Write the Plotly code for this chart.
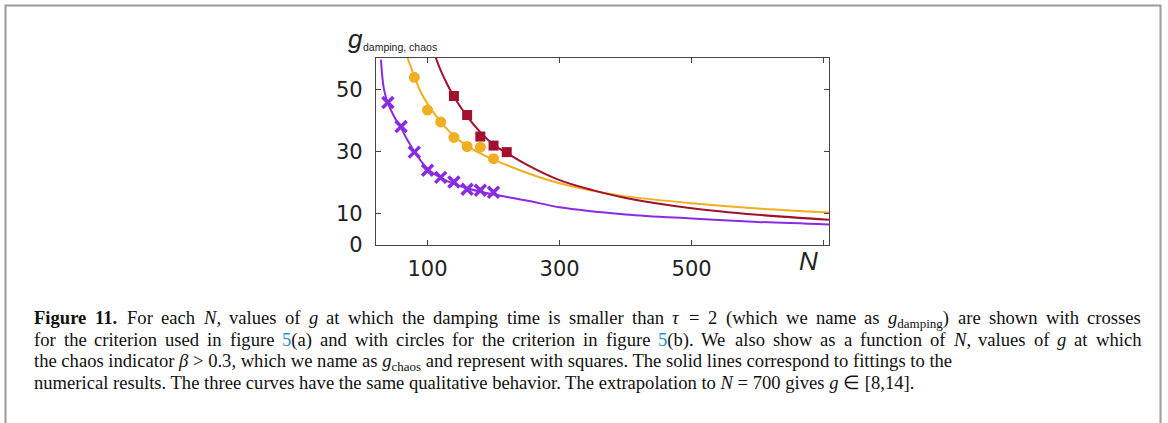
import plotly.graph_objects as go

# ---------------- data ----------------
N_cross = [40, 60, 80, 100, 120, 140, 160, 180, 200]
g_cross = [45.7, 38.0, 29.8, 24.0, 21.7, 20.2, 17.9, 17.6, 16.9]

N_circle = [80, 100, 120, 140, 160, 180, 200]
g_circle = [53.8, 43.3, 39.5, 34.5, 31.6, 31.4, 27.7]

N_square = [140, 160, 180, 200, 220]
g_square = [47.8, 41.7, 34.8, 31.9, 29.8]

# fitted curves, points
N_fit_purple = [29.5, 34, 40, 50, 60, 70, 80, 90, 100, 120, 140, 160, 180, 200, 250, 300, 400, 500, 600, 708]
g_fit_purple = [59.5, 50, 45.5, 41, 37.5, 33.5, 30, 27, 24.5, 21.5, 19.6, 18.2, 17.1, 16.2, 14.3, 12.1, 9.8, 8.5, 7.4, 6.6]

N_fit_yellow = [69.7, 75, 80, 90, 100, 120, 140, 160, 180, 200, 250, 300, 350, 400, 500, 600, 708]
g_fit_yellow = [60, 57, 54, 49, 45.3, 39.5, 35, 31.8, 29.4, 27.4, 23.2, 19.8, 17.4, 15.6, 13.4, 11.7, 10.4]

N_fit_red = [112.7, 120, 130, 140, 160, 180, 200, 220, 250, 300, 350, 400, 500, 600, 708]
g_fit_red = [60, 56, 51.5, 47.6, 41.3, 36.2, 32.2, 29.5, 25.8, 20.8, 17.6, 15.1, 11.8, 9.7, 8.1]

x_tickvals = [100, 300, 500]
x_ticktext = ["100", "300", "500"]
x_minor_ticks = [700]
y_tickvals = [0, 10, 30, 50]
y_ticktext = ["0", "10", "30", "50"]

PURPLE = "#8A2BE2"
YELLOW = "#F0AE22"
RED = "#A1112D"
BLUE = "#1E8FD5"

# ---------------- layout geometry ----------------
W, H = 1168, 423
L, R, T, B = 376, 829, 58, 245


def px(x):
    return (x - L) / (R - L)


def py(y):
    return (B - y) / (B - T)


fig = go.Figure()

fig.add_trace(go.Scatter(x=N_fit_purple, y=g_fit_purple, mode="lines",
                         line=dict(color=PURPLE, width=2, shape="spline"),
                         hoverinfo="skip", showlegend=False))
fig.add_trace(go.Scatter(x=N_fit_yellow, y=g_fit_yellow, mode="lines",
                         line=dict(color=YELLOW, width=2, shape="spline"),
                         hoverinfo="skip", showlegend=False))
fig.add_trace(go.Scatter(x=N_fit_red, y=g_fit_red, mode="lines",
                         line=dict(color=RED, width=2, shape="spline"),
                         hoverinfo="skip", showlegend=False))

fig.add_trace(go.Scatter(x=N_cross, y=g_cross, mode="markers",
                         marker=dict(symbol="x-thin", size=11, color=PURPLE,
                                     line=dict(color=PURPLE, width=3.5)),
                         showlegend=False))
fig.add_trace(go.Scatter(x=N_circle, y=g_circle, mode="markers",
                         marker=dict(symbol="circle", size=11, color=YELLOW,
                                     line=dict(width=0)),
                         showlegend=False))
fig.add_trace(go.Scatter(x=N_square, y=g_square, mode="markers",
                         marker=dict(symbol="square", size=10, color=RED,
                                     line=dict(width=0)),
                         showlegend=False))

axis_font = dict(family="DejaVu Sans, sans-serif", size=21, color="#222")

fig.update_xaxes(range=[22, 708], tickvals=x_tickvals, ticktext=x_ticktext,
                 ticks="inside", ticklen=5, tickcolor="#444", tickwidth=1,
                 minor=dict(tickvals=x_minor_ticks, ticks="inside", ticklen=5,
                            tickcolor="#444", tickwidth=1),
                 showline=True, linecolor="#444", linewidth=1.3, mirror="ticks",
                 showgrid=False, zeroline=False, tickfont=axis_font,
                 ticklabelstandoff=5)
fig.update_yaxes(range=[0, 60], tickvals=y_tickvals, ticktext=y_ticktext,
                 ticks="inside", ticklen=5, tickcolor="#444", tickwidth=1,
                 showline=True, linecolor="#444", linewidth=1.3, mirror="ticks",
                 showgrid=False, zeroline=False, tickfont=axis_font,
                 ticklabelstandoff=8)

annotations = [
    dict(x=px(346), y=py(39), text="<i>g</i>", showarrow=False,
         xref="paper", yref="paper", xanchor="left", yanchor="middle",
         font=dict(family="Liberation Sans, Arial, sans-serif", size=26, color="#222")),
    dict(x=px(361), y=py(46.5), text="damping, chaos", showarrow=False,
         xref="paper", yref="paper", xanchor="left", yanchor="middle",
         font=dict(family="Liberation Sans, Arial, sans-serif", size=10.5, color="#222")),
    dict(x=px(808), y=py(261), text="<i>N</i>", showarrow=False,
         xref="paper", yref="paper", xanchor="center", yanchor="middle",
         font=dict(family="Liberation Sans, Arial, sans-serif", size=26, color="#222")),
]

# ---------------- caption (justified first two lines) ----------------
FS = 18.6
cap_font = dict(family="Liberation Serif, Times New Roman, serif", size=FS, color="#111")

REG = {' ': 250, '(': 333, ')': 333, ',': 250, '.': 250, '=': 564, '>': 564,
       '[': 333, ']': 333, '∈': 667}
for c in "0123456789":
    REG[c] = 500
REG.update(dict(a=444, b=500, c=444, d=500, e=444, f=333, g=500, h=500, i=278, j=278,
                k=500, l=278, m=778, n=500, o=500, p=500, q=500, r=333, s=389, t=278,
                u=500, v=500, w=722, x=500, y=500, z=444))
REG.update({'F': 556, 'N': 722, 'T': 611, 'W': 944})
ITA = {'N': 667, 'g': 500, 'τ': 440, 'β': 500}
BLD = {'F': 611, 'i': 278, 'g': 500, 'u': 556, 'r': 444, 'e': 444, '1': 500, '.': 250}


def word(*parts):
    html, w = "", 0.0
    for p in parts:
        if isinstance(p, str):
            p = (p, "r")
        txt, st = p[0], p[1]
        col = p[2] if len(p) > 2 else None
        if st == "r":
            h = txt
            w += sum(REG.get(c, 500) for c in txt)
        elif st == "i":
            h = "<i>" + txt + "</i>"
            w += sum(ITA.get(c, REG.get(c, 500)) for c in txt)
        elif st == "b":
            h = "<b>" + txt + "</b>"
            w += sum(BLD.get(c, 500) for c in txt)
        else:
            h = "<sub>" + txt + "</sub>"
            w += 0.7 * sum(REG.get(c, 500) for c in txt)
        if col:
            h = "<span style='color:" + col + "'>" + h + "</span>"
        html += h
    return html, w * FS / 1000.0


line1 = [word(("Figure", "b")), word(("11.", "b")), word("For"), word("each"),
         word(("N", "i"), ","), word("values"), word("of"), word(("g", "i")), word("at"),
         word("which"), word("the"), word("damping"), word("time"), word("is"),
         word("smaller"), word("than"), word(("τ", "i")), word("="), word("2"),
         word("(which"), word("we"), word("name"), word("as"),
         word(("g", "i"), ("damping", "s"), ")"), word("are"), word("shown"),
         word("with"), word("crosses")]
line2 = [word("for"), word("the"), word("criterion"), word("used"), word("in"),
         word("figure"), word(("5", "r", BLUE), "(a)"), word("and"), word("with"),
         word("circles"), word("for"), word("the"), word("criterion"), word("in"),
         word("figure"), word(("5", "r", BLUE), "(b)."), word("We"), word("also"),
         word("show"), word("as"), word("a"), word("function"), word("of"),
         word(("N", "i"), ","), word("values"), word("of"), word(("g", "i")),
         word("at"), word("which")]

X_LEFT, X_RIGHT = 32, 1139
cap_top = [304.5, 326.5, 348, 369.5]

for words, top in ((line1, cap_top[0]), (line2, cap_top[1])):
    total = sum(w for _, w in words)
    gap = (X_RIGHT - X_LEFT - total) / (len(words) - 1)
    xx = X_LEFT
    for h, w in words:
        annotations.append(dict(x=px(xx), y=py(top), text=h, showarrow=False,
                                xref="paper", yref="paper", xanchor="left",
                                yanchor="top", font=cap_font))
        xx += w + gap

line3 = ("the chaos indicator <i>β</i> &gt; 0.3, which we name as <i>g</i><sub>chaos</sub> "
         "and represent with squares. The solid lines correspond to fittings to the")
line4 = ("numerical results. The three curves have the same qualitative behavior. "
         "The extrapolation to <i>N</i> = 700 gives <i>g</i> ∈ [8,14].")
for t, top in ((line3, cap_top[2]), (line4, cap_top[3])):
    annotations.append(dict(x=px(X_LEFT), y=py(top), text=t, showarrow=False,
                            xref="paper", yref="paper", xanchor="left",
                            yanchor="top", align="left", font=cap_font))

shapes = [
    dict(type="rect", xref="paper", yref="paper",
         x0=px(5.5), x1=px(1160.5), y0=py(5.5), y1=py(460),
         line=dict(color="#9a9a9a", width=2), fillcolor="rgba(0,0,0,0)", layer="below"),
]

fig.update_layout(width=W, height=H,
                  margin=dict(l=L, r=W - R, t=T, b=H - B, pad=0),
                  paper_bgcolor="white", plot_bgcolor="white",
                  annotations=annotations, shapes=shapes, showlegend=False)

fig.write_html("out.html")
